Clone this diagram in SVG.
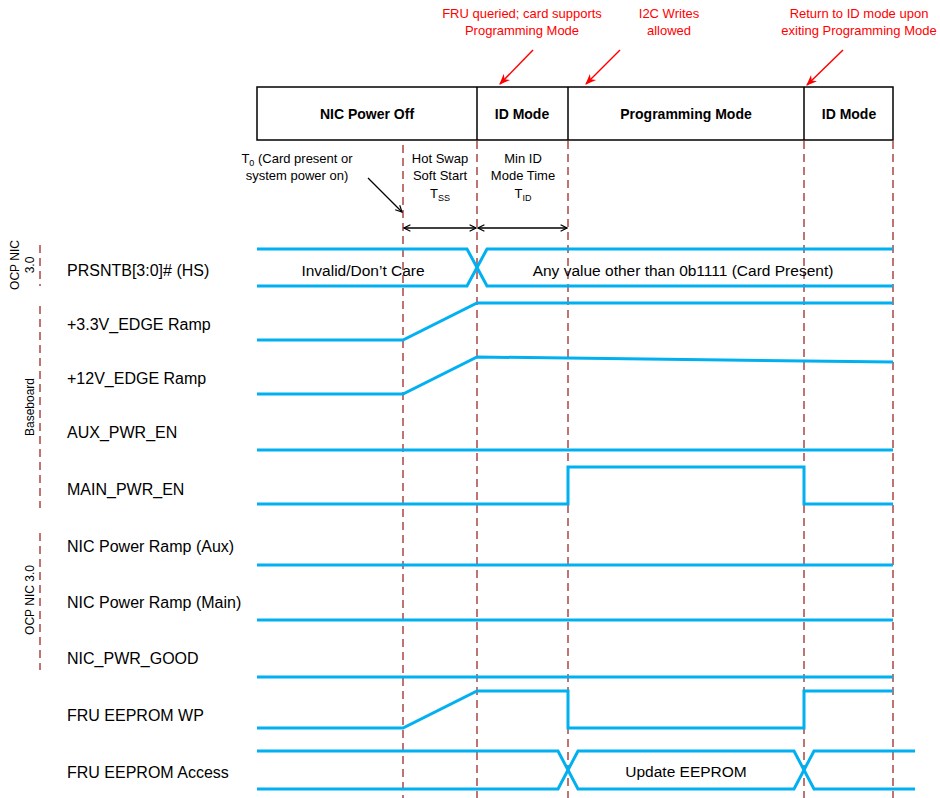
<svg xmlns="http://www.w3.org/2000/svg" width="940" height="798" viewBox="0 0 940 798">
<defs>
<style>
.t{font-family:"Liberation Sans",Arial,sans-serif;fill:#000}
.lbl{font-size:16px}
.hdr{font-size:14px;font-weight:bold;text-anchor:middle}
.sm{font-size:13px;text-anchor:middle}
.red{font-size:13px;text-anchor:middle;fill:#ff0000}
.side{font-size:12px;text-anchor:middle}
.bus{font-size:15.5px;text-anchor:middle}
.sig{fill:none;stroke:#00b0f0;stroke-width:3;stroke-linejoin:miter}
.dash{stroke:#a33a35;stroke-width:1.4;stroke-dasharray:8,5;fill:none}
.box{fill:#fff;stroke:#000;stroke-width:1.5}
.blk{stroke:#000;stroke-width:1.3;fill:none}
.ra{stroke:#ff0000;stroke-width:1.5;fill:none}
</style>
<marker id="ah" viewBox="0 0 10 10" refX="9" refY="5" markerWidth="8" markerHeight="8" orient="auto-start-reverse" markerUnits="userSpaceOnUse">
<path d="M1,1 L9,5 L1,9" fill="none" stroke="#000" stroke-width="1.5"/>
</marker>
<marker id="rah" viewBox="0 0 10 10" refX="9" refY="5" markerWidth="11" markerHeight="11" orient="auto" markerUnits="userSpaceOnUse">
<path d="M0,1 L10,5 L0,9 L3,5 Z" fill="#ff0000"/>
</marker>
</defs>
<rect width="940" height="798" fill="#fff"/>

<!-- top annotations -->
<g id="notes">
<text class="t red" x="522" y="18">FRU queried; card supports</text>
<text class="t red" x="522" y="35">Programming Mode</text>
<text class="t red" x="669" y="18">I2C Writes</text>
<text class="t red" x="669" y="35">allowed</text>
<text class="t red" x="859" y="18">Return to ID mode upon</text>
<text class="t red" x="859" y="35">exiting Programming Mode</text>
</g>

<!-- header -->
<g id="header">
<rect class="box" x="257" y="87" width="636" height="53"/>
<line class="blk" x1="477" y1="87" x2="477" y2="140" style="stroke-width:1.5"/>
<line class="blk" x1="568" y1="87" x2="568" y2="140" style="stroke-width:1.5"/>
<line class="blk" x1="804" y1="87" x2="804" y2="140" style="stroke-width:1.5"/>
<text class="t hdr" x="367" y="119">NIC Power Off</text>
<text class="t hdr" x="522" y="119">ID Mode</text>
<text class="t hdr" x="686" y="119">Programming Mode</text>
<text class="t hdr" x="849" y="119">ID Mode</text>
</g>

<!-- dashed time markers -->
<g id="markers">
<line class="dash" x1="403" y1="145" x2="403" y2="798"/>
<line class="dash" x1="477" y1="141" x2="477" y2="798"/>
<line class="dash" x1="568" y1="141" x2="568" y2="798"/>
<line class="dash" x1="804" y1="141" x2="804" y2="798"/>
<line class="dash" x1="893" y1="141" x2="893" y2="798"/>
<line class="dash" x1="40" y1="245" x2="40" y2="286"/>
<line class="dash" x1="40" y1="306" x2="40" y2="508"/>
<line class="dash" x1="40" y1="533" x2="40" y2="670"/>
</g>

<!-- side labels -->
<g id="side">
<text class="t side" transform="translate(19,265) rotate(-90)">OCP NIC</text>
<text class="t side" transform="translate(34,265) rotate(-90)">3.0</text>
<text class="t side" transform="translate(34,407) rotate(-90)">Baseboard</text>
<text class="t side" transform="translate(34,600) rotate(-90)">OCP NIC 3.0</text>
</g>

<!-- timing annotations -->
<g id="timing">
<text class="t sm" x="297" y="163">T<tspan font-size="9" dy="3">0</tspan><tspan dy="-3"> (Card present or</tspan></text>
<text class="t sm" x="297" y="180">system power on)</text>
<text class="t sm" x="440" y="163">Hot Swap</text>
<text class="t sm" x="440" y="180">Soft Start</text>
<text class="t sm" x="440" y="198">T<tspan font-size="9" dy="3">SS</tspan></text>
<text class="t sm" x="523" y="163">Min ID</text>
<text class="t sm" x="523" y="180">Mode Time</text>
<text class="t sm" x="523" y="198">T<tspan font-size="9" dy="3">ID</tspan></text>
</g>

<!-- signal labels -->
<g id="labels">
<text class="t lbl" x="67" y="276">PRSNTB[3:0]# (HS)</text>
<text class="t lbl" x="67" y="330">+3.3V_EDGE Ramp</text>
<text class="t lbl" x="67" y="384">+12V_EDGE Ramp</text>
<text class="t lbl" x="67" y="438">AUX_PWR_EN</text>
<text class="t lbl" x="67" y="495">MAIN_PWR_EN</text>
<text class="t lbl" x="67" y="552">NIC Power Ramp (Aux)</text>
<text class="t lbl" x="67" y="608">NIC Power Ramp (Main)</text>
<text class="t lbl" x="67" y="664">NIC_PWR_GOOD</text>
<text class="t lbl" x="67" y="721">FRU EEPROM WP</text>
<text class="t lbl" x="67" y="778">FRU EEPROM Access</text>
</g>

<!-- connectors / waveforms -->
<g id="connectors">
<line class="blk" x1="368" y1="178" x2="402" y2="212" marker-end="url(#ah)"/>
<line class="blk" x1="404" y1="228" x2="476" y2="228" marker-start="url(#ah)" marker-end="url(#ah)"/>
<line class="blk" x1="478" y1="228" x2="567" y2="228" marker-start="url(#ah)" marker-end="url(#ah)"/>
<line class="ra" x1="533" y1="50" x2="500" y2="84" marker-end="url(#rah)"/>
<line class="ra" x1="620" y1="50" x2="586" y2="84" marker-end="url(#rah)"/>
<line class="ra" x1="843" y1="50" x2="807" y2="85" marker-end="url(#rah)"/>

<g id="w-prsntb">
<path class="sig" d="M257,249 H467 L487,286 H893"/>
<path class="sig" d="M257,286 H467 L487,249 H893"/>
</g>
<path id="w-33v" class="sig" d="M257,340 H403 L477,303 H893"/>
<path id="w-12v" class="sig" d="M257,394 H403 L477,357 L893,362"/>
<path id="w-aux" class="sig" d="M257,450 H893"/>
<path id="w-main" class="sig" d="M257,504 H568 V467 H804 V504 H893"/>
<path id="w-nicaux" class="sig" d="M257,565 H893"/>
<path id="w-nicmain" class="sig" d="M257,620 H893"/>
<path id="w-pg" class="sig" d="M257,677 H893"/>
<path id="w-wp" class="sig" d="M257,728 H403 L477,691 H568 V728 H804 V691 H893"/>
<g id="w-access">
<path class="sig" d="M257,751 H558 L578,789 H794 L814,751 H915"/>
<path class="sig" d="M257,789 H558 L578,751 H794 L814,789 H915"/>
</g>
</g>

<g id="bus-text">
<text class="t bus" x="363" y="276">Invalid/Don’t Care</text>
<text class="t bus" x="683" y="276">Any value other than 0b1111 (Card Present)</text>
<text class="t bus" x="686" y="777">Update EEPROM</text>
</g>
</svg>
